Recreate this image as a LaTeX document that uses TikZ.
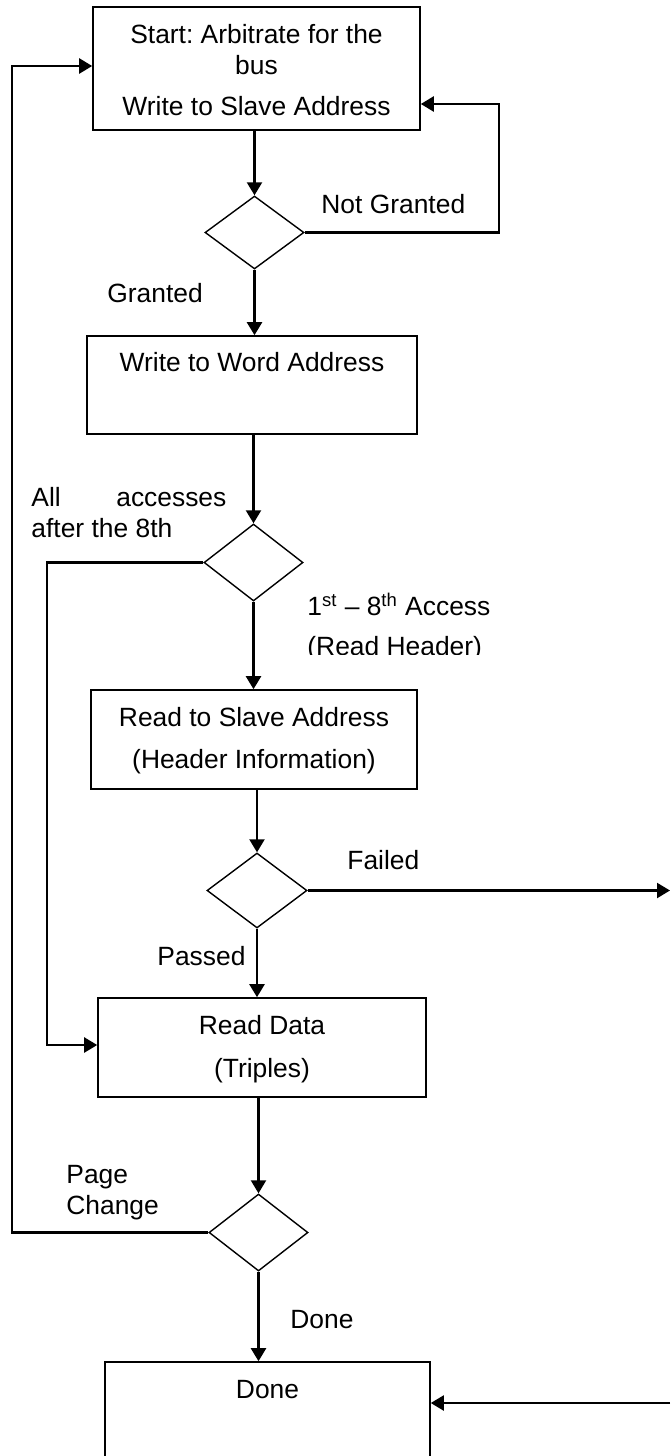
\documentclass[tikz,border=0pt]{standalone}
\usepackage{fontspec}
\setmainfont{Liberation Sans}
\frenchspacing
\usetikzlibrary{arrows.meta,shapes.geometric}
\tikzset{
  px/.style={x=0.5pt,y=-0.5pt},
  boxnode/.style={draw,line width=0.8pt,rectangle,inner sep=0pt},
  decnode/.style={draw,line width=0.7pt,diamond,inner sep=0pt,aspect=1},
  txt/.style={inner sep=0pt,font=\fontsize{13.2pt}{16pt}\selectfont},
  arr/.style={line width=1.1pt,-{Triangle[length=6.5pt,width=7.5pt]}},
}
\begin{document}
\begin{tikzpicture}[px]
\useasboundingbox (0,0) rectangle (670,1456);
\clip (0,0) rectangle (670,1456);
% boxes
\node[boxnode,minimum width=163.5pt,minimum height=61.5pt] (b1) at (256.5,68.5) {};
\node[boxnode,minimum width=165pt,minimum height=49pt] (b2) at (252,385) {};
\node[boxnode,minimum width=163pt,minimum height=49.5pt] (b3) at (254,739.5) {};
\node[boxnode,minimum width=164pt,minimum height=49.5pt] (b4) at (262,1047.5) {};
\node[boxnode,minimum width=162.5pt,minimum height=69pt] (b5) at (267.5,1431) {};
% decisions
\node[decnode,minimum width=49.5pt,minimum height=36.5pt] (d1) at (254.5,232.5) {};
\node[decnode,minimum width=49.5pt,minimum height=38.5pt] (d2) at (253.5,562.5) {};
\node[decnode,minimum width=50pt,minimum height=37.5pt] (d3) at (257,890.5) {};
\node[decnode,minimum width=49.5pt,minimum height=38.5pt] (d4) at (258.5,1232.5) {};
% box texts
\node[txt,anchor=base] (t1a) at (256.5,43) {Start: Arbitrate for the};
\node[txt,anchor=base] (t1b) at (256.5,74) {bus};
\node[txt,anchor=base] (t1c) at (256.5,115) {Write to Slave Address};
\node[txt,anchor=base] (t2) at (252,371) {Write to Word Address};
\node[txt,anchor=base] (t3a) at (254,726) {Read to Slave Address};
\node[txt,anchor=base] (t3b) at (254,768) {(Header Information)};
\node[txt,anchor=base] (t4a) at (262,1034) {Read Data};
\node[txt,anchor=base] (t4b) at (262,1077) {(Triples)};
\node[txt,anchor=base] (t5) at (267.5,1398) {Done};
% labels
\node[txt,anchor=base west] (lng) at (321,213) {Not Granted};
\node[txt,anchor=base west] (lg) at (107,302) {Granted};
\node[txt,anchor=base west] (laa) at (31,506) {\makebox[97.5pt][s]{All\hfill accesses}};
\node[txt,anchor=base west] (lab) at (31,537) {after the 8th};
\node[txt,anchor=base west] (lacc) at (307,615) {1\textsuperscript{st} -- 8\textsuperscript{th} Access};
\begin{scope}
\clip (300,628) rectangle (500,654.5);
\node[txt,anchor=base west] (lrh) at (307,655.5) {(Read Header)};
\end{scope}
\node[txt,anchor=base west] (lf) at (347,869) {Failed};
\node[txt,anchor=base west] (lp) at (157,965) {Passed};
\node[txt,anchor=base west] (lpa) at (66,1183) {Page};
\node[txt,anchor=base west] (lpb) at (66,1214) {Change};
\node[txt,anchor=base west] (ld) at (290,1328) {Done};
% helper coordinates
\coordinate (ng) at (499,104);
\coordinate (pc) at (12,66);
\coordinate (aa) at (47,1045);
\coordinate (fl) at (670,891);
\coordinate (dr) at (670,1403);
% main flow
\draw[arr] (d1.north |- b1.south) -- (d1.north);
\draw[arr] (d1.south) -- (d1.south |- b2.north);
\draw[arr] (d2.north |- b2.south) -- (d2.north);
\draw[arr] (d2.south) -- (d2.south |- b3.north);
\draw[arr] (d3.north |- b3.south) -- (d3.north);
\draw[arr] (d3.south) -- (d3.south |- b4.north);
\draw[arr] (d4.north |- b4.south) -- (d4.north);
\draw[arr] (d4.south) -- (d4.south |- b5.north);
% branches
\draw[arr] (d1.east) -| (ng) -- (b1.east |- ng);
\draw[arr] (d4.west) -| (pc) -- (b1.west |- pc);
\draw[arr] (d2.west) -| (aa) -- (b4.west |- aa);
\draw[arr] (d3.east) -- (d3.east -| fl);
\draw[arr] (dr) -- (b5.east |- dr);
\end{tikzpicture}
\end{document}
